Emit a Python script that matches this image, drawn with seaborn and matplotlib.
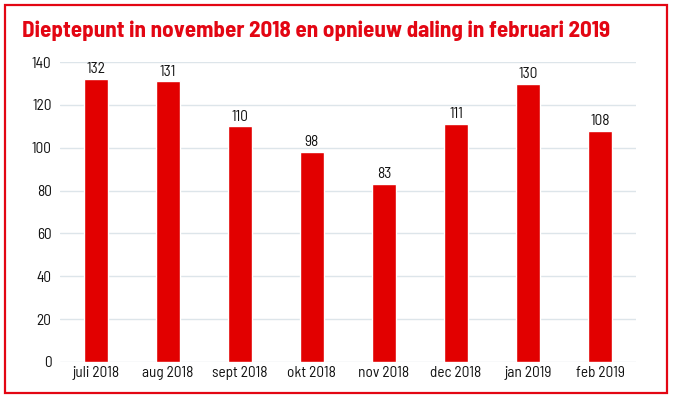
import matplotlib
matplotlib.use("Agg")
import matplotlib.pyplot as plt
import seaborn as sns
import pandas as pd
from matplotlib.patches import Rectangle

months = ["juli 2018", "aug 2018", "sept 2018", "okt 2018", "nov 2018", "dec 2018", "jan 2019", "feb 2019"]
values = [132, 131, 110, 98, 83, 111, 130, 108]
yticks = [0, 20, 40, 60, 80, 100, 120, 140]
title = "Dieptepunt in november 2018 en opnieuw daling in februari 2019"

sns.set_theme(style="white")
FAM = ["Barlow Semi Condensed", "Roboto Condensed", "DejaVu Sans"]
plt.rcParams['font.family'] = FAM

RED = "#e30613"
BAR = "#e20000"

df = pd.DataFrame({"month": months, "value": values})
fig = plt.figure(figsize=(6.73, 3.98), dpi=100)
ax = fig.add_axes([0.089, 0.0905, 0.856, 0.7535])
sns.barplot(data=df, x="month", y="value", color=BAR, width=0.33, saturation=1, ax=ax)
ax.set_xlim(-0.5, 7.5)
ax.set_ylim(0, 140)
ax.set_yticks(yticks)
ax.set_yticklabels([str(t) for t in yticks], fontsize=11, color="#111111")
ax.tick_params(axis="x", labelsize=11, colors="#111111", length=0, pad=3)
ax.tick_params(axis="y", length=0, pad=6)
ax.set_xlabel("")
ax.set_ylabel("")
ax.yaxis.grid(True, color="#dde5ea", linewidth=1)
ax.set_axisbelow(True)
for s in ax.spines.values():
    s.set_visible(False)
for c in ax.containers:
    ax.bar_label(c, labels=[str(v) for v in values], padding=2, fontsize=11, color="#111111")

fig.patches.append(Rectangle((5/673, 5/398), 662/673, 388/398, transform=fig.transFigure,
                             fill=False, edgecolor=RED, linewidth=1.6))
fig.text(22/673, 1 - 31/398, title, color=RED, fontsize=16.6, fontweight="bold", va="center", ha="left")
fig.savefig("out.png", dpi=100)
